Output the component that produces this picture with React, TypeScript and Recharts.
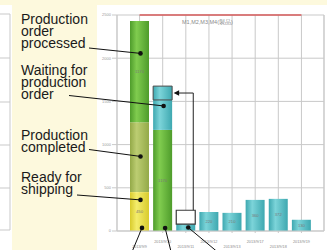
import * as React from 'react';
import { Bar, CartesianGrid, ComposedChart, Line, XAxis, YAxis } from 'recharts';

const categories = ['2013/9/9', '2013/9/10', '2013/9/11', '2013/9/12', '2013/9/13', '2013/9/17', '2013/9/18', '2013/9/19'];
const shipping = [450, 0, 0, 0, 0, 0, 0, 0];
const completed = [810, 0, 0, 0, 0, 0, 0, 0];
const processed = [1170, 1170, 0, 0, 0, 0, 0, 0];
const waiting = [0, 347, 80, 220, 210, 360, 372, 130];
const movedIn = [0, 160, 0, 0, 0, 0, 0, 0];
const movedOut = [0, 0, 160, 0, 0, 0, 0, 0];
const capacity = [2500, 2500, 2500, 2500, 2500, 2500, 2500, 2500];
const yTicks = [0, 500, 1000, 1500, 2000, 2500];

const series: Record<string, number[]> = { shipping, completed, processed, waiting, movedIn, movedOut };

// which segments carry a printed value
const valueShown: Record<string, number[]> = {
  shipping: [0],
  processed: [0, 1],
  waiting: [3, 4, 5, 6, 7],
};

// leader lines from the side panel to a bar segment
const leftCallouts = [
  { key: 'processed', index: 0, frac: 0.32, from: [89, 48] },
  { key: 'waiting', index: 1, frac: 0.2, from: [69, 95.5] },
  { key: 'completed', index: 0, frac: 0.49, from: [89, 149.5] },
  { key: 'shipping', index: 0, frac: 0.2, from: [77, 195] },
];
// leader lines going down out of the picture
const bottomCallouts = [
  { key: 'shipping', index: 0, frac: 0.92, dx: -10, dy: 24 },
  { key: 'processed', index: 1, frac: 0.97, dx: 6, dy: 24 },
  { key: 'waiting', index: 2, frac: 0.5, dx: 30, dy: 25 },
];

const panelText = [
  { lines: ['Production', 'order', 'processed'], y: 23.5 },
  { lines: ['Waiting for', 'production', 'order'], y: 75 },
  { lines: ['Production', 'completed'], y: 140 },
  { lines: ['Ready for', 'shipping'], y: 181.5 },
];

const data = categories.map((c, i) => ({
  date: c,
  shipping: shipping[i],
  completed: completed[i],
  processed: processed[i],
  waiting: waiting[i],
  movedIn: movedIn[i],
  movedOut: movedOut[i],
  capacity: capacity[i],
}));

const CREAM = '#fdf9dd';
const GRID = '#c9c9c9';
const PLOT_LEFT = 117;
const PLOT_RIGHT = 324;
const PAD = 11;
const BAND = (PLOT_RIGHT - PLOT_LEFT - 2 * PAD) / categories.length;

function makeLabel(key: string) {
  return (props: any) => {
    const vb = props.viewBox ?? props;
    const x = Number(vb.x ?? props.x);
    const w = Number(vb.width ?? props.width);
    let y = Number(vb.y ?? props.y);
    let h = Number(vb.height ?? props.height);
    if (h < 0) {
      y += h;
      h = -h;
    }
    if (!h || !isFinite(x)) return null;
    const cx = x + w / 2;
    // zero-height segments are dropped, so find the category from the position
    const index = Math.round((cx - (PLOT_LEFT + PAD + BAND / 2)) / BAND);
    const v = series[key][index];
    if (!v) return null;
    const out: React.ReactNode[] = [];
    if (valueShown[key]?.includes(index)) {
      out.push(
        <text key="v" x={cx} y={y + h / 2 + 1.5} fontSize={4.2} fill="#7a7a7a" textAnchor="middle" fontFamily="Arial, sans-serif">
          {v}
        </text>,
      );
    }
    leftCallouts
      .filter((c) => c.key === key && c.index === index)
      .forEach((c, k) => {
        const py = y + h * c.frac;
        out.push(
          <g key={`l${k}`}>
            <line x1={c.from[0]} y1={c.from[1]} x2={cx + 1} y2={py} stroke="#111" strokeWidth={1} />
            <circle cx={cx + 1} cy={py} r={2.3} fill="#111" />
          </g>,
        );
      });
    bottomCallouts
      .filter((c) => c.key === key && c.index === index)
      .forEach((c, k) => {
        const py = y + h * c.frac;
        const px = cx + 2.5;
        out.push(
          <g key={`b${k}`}>
            <line x1={px} y1={py} x2={px + c.dx} y2={py + c.dy} stroke="#111" strokeWidth={1} />
            <circle cx={px} cy={py} r={2.3} fill="#111" />
          </g>,
        );
      });
    if (key === 'movedOut') {
      // arrow from the emptied box back to the box it was moved to
      const ppu = h / v;
      const zeroY = y + h + waiting[index] * ppu;
      const t = index - 1;
      const targetTop = zeroY - (shipping[t] + completed[t] + processed[t] + waiting[t] + movedIn[t]) * ppu;
      const ty = targetTop + (movedIn[t] * ppu) / 2;
      const vx = x + w - 2;
      const tip = x - BAND + w + 1.5;
      out.push(
        <g key="arrow">
          <polyline points={`${vx},${y} ${vx},${ty} ${tip + 5},${ty}`} fill="none" stroke="#222" strokeWidth={1} />
          <polygon points={`${tip},${ty} ${tip + 5.5},${ty - 2.8} ${tip + 5.5},${ty + 2.8}`} fill="#111" />
        </g>,
      );
    }
    return <g>{out}</g>;
  };
}

function DateTick(props: any) {
  const { x, y, payload, index } = props;
  const dy = index % 2 === 0 ? 12.5 : 7.5;
  return (
    <text x={x} y={y + dy} fontSize={3.8} fill="#8a8a8a" textAnchor="middle" fontFamily="Arial, sans-serif">
      {payload.value}
    </text>
  );
}

function Gradients() {
  const cyl = (id: string, edge: string, mid: string) => (
    <linearGradient id={id} x1="0" y1="0" x2="1" y2="0">
      <stop offset="0%" stopColor={edge} />
      <stop offset="35%" stopColor={mid} />
      <stop offset="100%" stopColor={edge} />
    </linearGradient>
  );
  return (
    <defs>
      {cyl('gGreen', '#4e9c2b', '#80cc4f')}
      {cyl('gOlive', '#93a948', '#bccd72')}
      {cyl('gYellow', '#d8cb2c', '#f4ed6c')}
      {cyl('gCyan', '#3ea8b0', '#7cd4d9')}
    </defs>
  );
}

export default function App() {
  return (
    <div style={{ position: 'relative', width: 327, height: 250, background: '#fff', overflow: 'hidden' }}>
      <style>{'body{margin:0}'}</style>
      <div style={{ position: 'absolute', left: 0, top: 0, width: 327, height: 5, background: CREAM }} />
      <div style={{ position: 'absolute', left: 12, top: 0, width: 85, height: 250, background: CREAM }} />
      <svg width={12} height={250} style={{ position: 'absolute', left: 0, top: 0 }}>
        {[14, 58, 102, 145, 188, 230].map((gy) => (
          <line key={gy} x1={0} x2={10} y1={gy} y2={gy} stroke={GRID} />
        ))}
        <line x1={10} x2={10} y1={14} y2={230} stroke={GRID} />
      </svg>
      <div style={{ position: 'absolute', left: 0, top: 0 }}>
        <ComposedChart width={327} height={250} data={data} margin={{ top: 15, right: 2, left: 97, bottom: 0 }} barSize={19}>
          <Gradients />
          <CartesianGrid stroke={GRID} />
          <XAxis
            dataKey="date"
            height={19}
            interval={0}
            padding={{ left: PAD, right: PAD }}
            tick={<DateTick />}
            tickSize={2}
            tickLine={{ stroke: GRID }}
            axisLine={{ stroke: GRID }}
          />
          <YAxis
            domain={[0, 2500]}
            ticks={yTicks}
            width={20}
            tickSize={5}
            tickMargin={1}
            tick={{ fontSize: 4, fill: '#9a9a9a', fontFamily: 'Arial, sans-serif' }}
            tickLine={{ stroke: GRID }}
            axisLine={{ stroke: GRID }}
          />
          <YAxis yAxisId="r" orientation="right" domain={[0, 2500]} width={1} tick={false} tickLine={false} axisLine={{ stroke: GRID }} />
          <Bar dataKey="shipping" stackId="a" fill="url(#gYellow)" isAnimationActive={false} label={makeLabel('shipping')} />
          <Bar dataKey="completed" stackId="a" fill="url(#gOlive)" isAnimationActive={false} label={makeLabel('completed')} />
          <Bar dataKey="processed" stackId="a" fill="url(#gGreen)" isAnimationActive={false} label={makeLabel('processed')} />
          <Bar dataKey="waiting" stackId="a" fill="url(#gCyan)" isAnimationActive={false} label={makeLabel('waiting')} />
          <Bar dataKey="movedIn" stackId="a" fill="url(#gCyan)" stroke="#4a4a4a" strokeWidth={1} isAnimationActive={false} label={makeLabel('movedIn')} />
          <Bar dataKey="movedOut" stackId="a" fill="#ffffff" stroke="#3a3a3a" strokeWidth={1.2} isAnimationActive={false} label={makeLabel('movedOut')} />
          <Line dataKey="capacity" stroke="#d65a5a" strokeWidth={1.3} dot={false} activeDot={false} isAnimationActive={false} />
        </ComposedChart>
      </div>
      <svg width={327} height={250} style={{ position: 'absolute', left: 0, top: 0, pointerEvents: 'none' }}>
        <text x={182} y={24} fontSize={5.5} fill="#8a8a8a" fontFamily="Arial, sans-serif">
          M1,M2,M3,M4(製品)
        </text>
        {panelText.map((b, i) => (
          <text key={i} x={21} y={b.y} fontSize={14} fill="#1a1a1a" fontFamily="'Liberation Sans', Arial, sans-serif">
            {b.lines.map((l, k) => (
              <tspan key={k} x={21} dy={k === 0 ? 0 : 12}>
                {l}
              </tspan>
            ))}
          </text>
        ))}
      </svg>
    </div>
  );
}
